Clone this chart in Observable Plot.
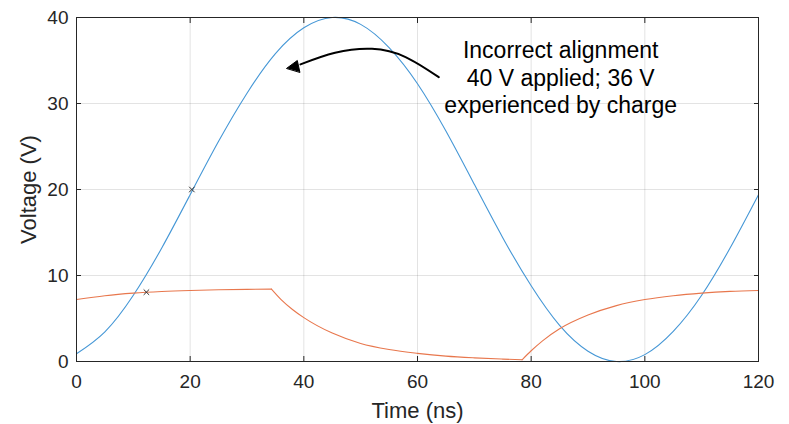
<!DOCTYPE html>
<html>
<head>
<meta charset="utf-8">
<script src="https://cdn.jsdelivr.net/npm/d3@7"></script>
<script src="https://cdn.jsdelivr.net/npm/@observablehq/plot@0.6"></script>
<style>
  html, body { margin: 0; padding: 0; background: #fff; }
  #chart { width: 789px; height: 424px; }
  svg { font-family: "Liberation Sans", Helvetica, Arial, sans-serif; }
</style>
</head>
<body>
<div id="chart"></div>
<script>
// ---- data ----
const blueTime = [0, 5, 10, 15, 20, 25, 30, 35, 40, 45, 50, 55, 60, 65, 70, 75, 80, 85, 90, 95, 100, 105, 110, 115, 120];
const blueVoltage = [0.9, 3.45, 7.7, 13.2, 19.4, 25.6, 31.2, 35.8, 38.8, 40.0, 39.2, 36.5, 32.3, 26.8, 20.6, 14.4, 8.8, 4.2, 1.2, 0.0, 0.8, 3.5, 7.7, 13.2, 19.4];

const orangeSeg1Time = [0, 5, 10, 15, 20, 25, 30, 34.3];
const orangeSeg1Voltage = [7.2, 7.65, 7.95, 8.14, 8.26, 8.34, 8.39, 8.42];
const orangeSeg2Time = [34.3, 36, 38, 40, 45, 50, 55, 60, 65, 70, 75, 78.4];
const orangeSeg2Voltage = [8.42, 7.2, 6.05, 5.1, 3.3, 2.1, 1.4, 0.95, 0.62, 0.42, 0.28, 0.2];
const orangeSeg3Time = [78.4, 80, 82, 85, 90, 95, 100, 105, 110, 115, 120];
const orangeSeg3Voltage = [0.2, 1.25, 2.4, 3.8, 5.4, 6.5, 7.2, 7.65, 7.95, 8.15, 8.26];

const markerTime = [20.3, 12.3];
const markerVoltage = [20, 8.06];

const xTicks = [0, 20, 40, 60, 80, 100, 120];
const yTicks = [0, 10, 20, 30, 40];
const xLabel = "Time (ns)";
const yLabel = "Voltage (V)";

const annotationText = "Incorrect alignment\n40 V applied; 36 V\nexperienced by charge";
const annotationTime = 85.2;
const annotationVoltage = 33.1;

// annotation arrow (data coordinates)
const arrowBodyTime = [63.75, 57.9, 52.0, 45.5, 39.4];
const arrowBodyVoltage = [33.06, 35.4, 36.36, 35.9, 34.55];
const arrowHeadTime = [37.0, 38.85, 39.3];
const arrowHeadVoltage = [34.1, 35.0, 33.65];

// ---- tables ----
const blue = blueTime.map((t, i) => ({t, v: blueVoltage[i]}));
const orange = [
  ...orangeSeg1Time.map((t, i) => ({t, v: orangeSeg1Voltage[i], seg: 1})),
  ...orangeSeg2Time.map((t, i) => ({t, v: orangeSeg2Voltage[i], seg: 2})),
  ...orangeSeg3Time.map((t, i) => ({t, v: orangeSeg3Voltage[i], seg: 3}))
];
const markers = markerTime.map((t, i) => ({t, v: markerVoltage[i]}));
const arrowBody = arrowBodyTime.map((t, i) => ({t, v: arrowBodyVoltage[i]}));
const arrowHead = arrowHeadTime.map((t, i) => ({t, v: arrowHeadVoltage[i]}));

const ink = "#262626";

const chart = Plot.plot({
  width: 789,
  height: 424,
  marginLeft: 76,
  marginRight: 31,
  marginTop: 17,
  marginBottom: 63,
  style: {fontFamily: '"Liberation Sans", Helvetica, Arial, sans-serif', fontSize: "19px", color: ink, background: "#fff", overflow: "visible"},
  x: {domain: [0, 120]},
  y: {domain: [0, 40]},
  marks: [
    Plot.gridX(xTicks, {stroke: ink, strokeOpacity: 0.13}),
    Plot.gridY(yTicks, {stroke: ink, strokeOpacity: 0.13}),
    Plot.line(blue, {x: "t", y: "v", stroke: "#4597d6", strokeWidth: 1.1, curve: "natural"}),
    Plot.line(orange, {x: "t", y: "v", z: "seg", stroke: "#e8774d", strokeWidth: 1.1, curve: "monotone-x"}),
    Plot.dot(markers, {x: "t", y: "v", symbol: "times", r: 2.6, stroke: "#333", strokeWidth: 1}),
    Plot.axisX({anchor: "bottom", ticks: xTicks, tickSize: -5, tickPadding: 18, fontSize: 19, stroke: ink, color: ink, label: null}),
    Plot.axisX({anchor: "top", ticks: xTicks, tickSize: -5, tickFormat: () => "", label: null, stroke: ink}),
    Plot.axisY({anchor: "left", ticks: yTicks, tickSize: -5, tickPadding: 13, fontSize: 19, stroke: ink, color: ink, label: null}),
    Plot.axisY({anchor: "right", ticks: yTicks, tickSize: -5, tickFormat: () => "", label: null, stroke: ink}),
    Plot.frame({stroke: ink, strokeWidth: 1}),
    Plot.text([xLabel], {frameAnchor: "bottom", dy: 56, lineAnchor: "bottom", textAnchor: "middle", text: d => d, fontSize: 22, fill: ink}),
    Plot.text([yLabel], {frameAnchor: "left", dx: -56, rotate: -90, lineAnchor: "top", textAnchor: "middle", text: d => d, fontSize: 22, fill: ink}),
    Plot.line(arrowBody, {x: "t", y: "v", stroke: "#000", strokeWidth: 2, curve: "natural"}),
    Plot.line(arrowHead, {x: "t", y: "v", stroke: "#000", fill: "#000", strokeWidth: 1, curve: "linear-closed"}),
    Plot.text([annotationText], {x: annotationTime, y: annotationVoltage, text: d => d, fontSize: 23, lineHeight: 1.2, fill: "#000", textAnchor: "middle"})
  ]
});
document.getElementById("chart").appendChild(chart);
</script>
</body>
</html>
